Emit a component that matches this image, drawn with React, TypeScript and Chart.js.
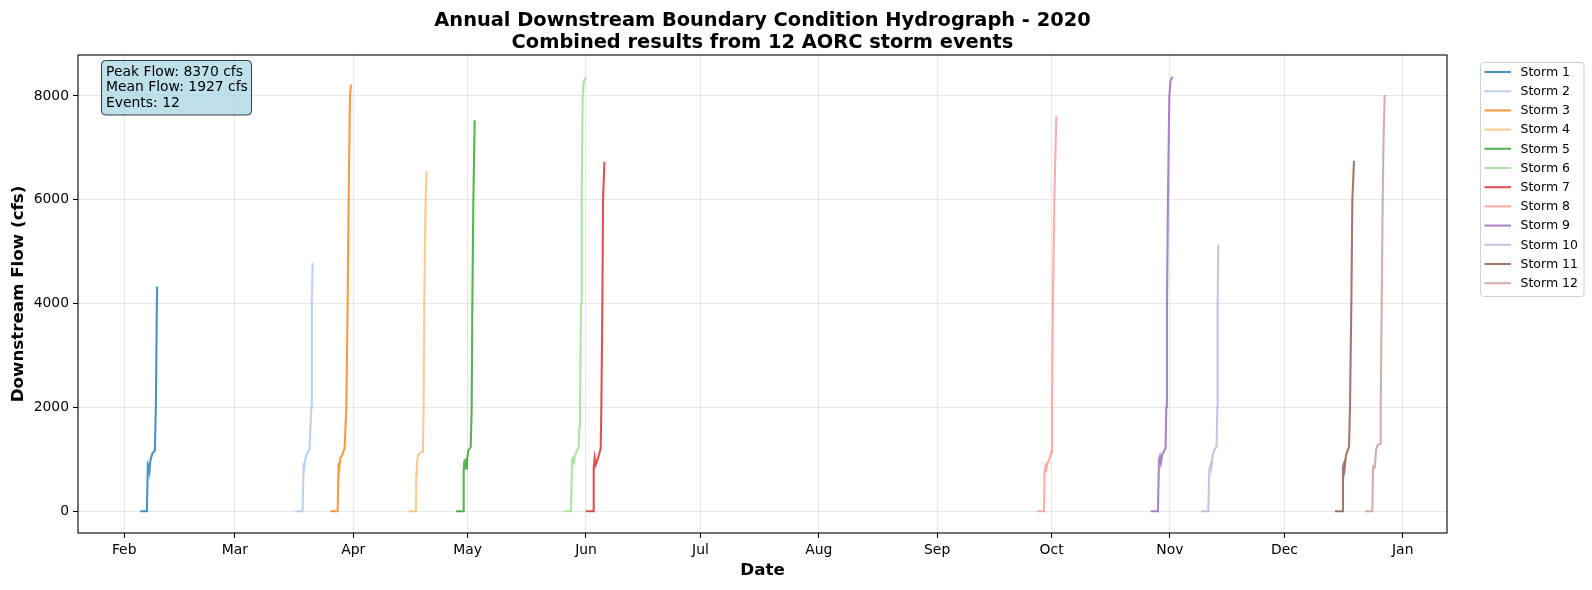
import React, { useEffect, useRef } from 'react';
import { Chart, registerables } from 'chart.js';

Chart.register(...registerables);

// ---- Data ----
const monthLabels = ['Feb', 'Mar', 'Apr', 'May', 'Jun', 'Jul', 'Aug', 'Sep', 'Oct', 'Nov', 'Dec', 'Jan'];
const monthStartDays = [31, 60, 91, 121, 152, 182, 213, 244, 274, 305, 335, 366];
const yTickValues = [0, 2000, 4000, 6000, 8000];

const stormNames = ['Storm 1', 'Storm 2', 'Storm 3', 'Storm 4', 'Storm 5', 'Storm 6', 'Storm 7', 'Storm 8', 'Storm 9', 'Storm 10', 'Storm 11', 'Storm 12'];
const stormColors = ['#1f77b4', '#aec7e8', '#ff7f0e', '#ffbb78', '#2ca02c', '#98df8a', '#d62728', '#ff9896', '#9467bd', '#c5b0d5', '#8c564b', '#c49c94'];
// start of each storm, as day of year 2020 (Jan 1 = 0)
const stormStartDays = [35.19, 75.82, 85.0, 105.52, 117.94, 146.15, 151.92, 270.24, 299.94, 313.22, 348.25, 356.12];

// days since storm start / flow (cfs)
const storm1Days = [0, 1.75, 2.01, 2.27, 2.45, 2.62, 2.88, 3.23, 3.85, 4.11, 4.37, 4.46];
const storm1Flow = [0, 0, 910, 870, 782, 950, 1038, 1115, 1167, 2000, 3990, 4330];
const storm2Days = [0, 1.92, 2.19, 2.36, 2.62, 3.06, 3.76, 4.2, 4.37, 4.55];
const storm2Flow = [0, 0, 930, 833, 994, 1120, 1200, 2000, 4000, 4780];
const storm3Days = [0, 1.92, 2.19, 2.36, 2.62, 3.15, 3.76, 4.2, 4.55, 4.81, 5.16, 5.42];
const storm3Flow = [0, 0, 930, 833, 1025, 1090, 1218, 2006, 3987, 5993, 8000, 8218];
const storm4Days = [0, 1.92, 2.01, 2.19, 2.53, 2.88, 3.58, 3.76, 3.93, 4.11, 4.46, 4.72];
const storm4Flow = [0, 0, 724, 949, 1077, 1122, 1141, 1173, 2000, 4000, 6000, 6557];
const storm5Days = [0, 1.84, 2.01, 2.19, 2.36, 2.53, 2.71, 2.88, 3.23, 3.85, 4.11, 4.28, 4.55, 4.9];
const storm5Flow = [0, 0, 756, 980, 820, 1013, 820, 980, 1173, 1237, 1987, 3981, 5980, 7532];
const storm6Days = [0, 1.92, 2.19, 2.45, 2.62, 2.88, 3.32, 3.93, 4.11, 4.28, 4.55, 4.72, 4.98, 5.24, 5.77];
const storm6Flow = [0, 0, 994, 1025, 897, 1025, 1154, 1218, 1635, 2006, 3987, 5993, 8000, 8269, 8365];
const storm7Days = [0, 1.92, 2.1, 2.36, 2.62, 2.97, 3.5, 3.93, 4.11, 4.37, 4.55, 4.9];
const storm7Flow = [0, 0, 833, 1025, 897, 962, 1090, 1218, 2006, 3987, 5993, 6730];
const storm8Days = [0, 1.75, 1.92, 2.1, 2.27, 2.62, 3.15, 3.67, 3.85, 4.11, 4.46, 4.98];
const storm8Flow = [0, 0, 782, 846, 750, 910, 1006, 1135, 1987, 3974, 5974, 7609];
const storm9Days = [0, 1.92, 2.19, 2.45, 2.71, 3.06, 3.5, 3.93, 4.11, 4.28, 4.55, 4.9, 5.24, 5.77];
const storm9Flow = [0, 0, 994, 1058, 930, 1090, 1154, 1218, 2006, 3987, 5993, 8000, 8301, 8370];
const storm10Days = [0, 1.84, 2.1, 2.45, 2.62, 2.97, 3.5, 4.02, 4.2, 4.28, 4.46];
const storm10Flow = [0, 0, 801, 897, 833, 1090, 1186, 1250, 2006, 3987, 5134];
const storm11Days = [0, 1.92, 2.1, 2.36, 2.53, 2.88, 3.32, 3.67, 3.93, 4.28, 4.55, 4.98];
const storm11Flow = [0, 0, 853, 917, 820, 1077, 1173, 1237, 1993, 3981, 5980, 6750];
const storm12Days = [0, 1.92, 2.1, 2.36, 2.53, 2.88, 3.23, 3.93, 4.11, 4.37, 4.63, 4.81, 5.16];
const storm12Flow = [0, 0, 853, 885, 820, 1173, 1269, 1301, 1993, 3981, 5980, 7006, 8019];

const stormDays = [storm1Days, storm2Days, storm3Days, storm4Days, storm5Days, storm6Days, storm7Days, storm8Days, storm9Days, storm10Days, storm11Days, storm12Days];
const stormFlows = [storm1Flow, storm2Flow, storm3Flow, storm4Flow, storm5Flow, storm6Flow, storm7Flow, storm8Flow, storm9Flow, storm10Flow, storm11Flow, storm12Flow];

const statsLines = ['Peak Flow: 8370 cfs', 'Mean Flow: 1927 cfs', 'Events: 12'];
const titleLines = ['Annual Downstream Boundary Condition Hydrograph - 2020', 'Combined results from 12 AORC storm events'];

const FONT = '"DejaVu Sans", sans-serif';

function hexToRgba(hex: string, a: number) {
  const r = parseInt(hex.slice(1, 3), 16);
  const g = parseInt(hex.slice(3, 5), 16);
  const b = parseInt(hex.slice(5, 7), 16);
  return `rgba(${r},${g},${b},${a})`;
}

function roundRect(ctx: CanvasRenderingContext2D, x: number, y: number, w: number, h: number, r: number) {
  ctx.beginPath();
  ctx.moveTo(x + r, y);
  ctx.lineTo(x + w - r, y);
  ctx.arcTo(x + w, y, x + w, y + r, r);
  ctx.lineTo(x + w, y + h - r);
  ctx.arcTo(x + w, y + h, x + w - r, y + h, r);
  ctx.lineTo(x + r, y + h);
  ctx.arcTo(x, y + h, x, y + h - r, r);
  ctx.lineTo(x, y + r);
  ctx.arcTo(x, y, x + r, y, r);
  ctx.closePath();
}

const decorPlugin = {
  id: 'decor',
  afterDraw(chart: any) {
    const ctx: CanvasRenderingContext2D = chart.ctx;
    const area = chart.chartArea;
    ctx.save();
    // spines
    ctx.strokeStyle = '#000';
    ctx.lineWidth = 1.1;
    ctx.strokeRect(area.left, area.top, area.right - area.left, area.bottom - area.top);

    const cx = (area.left + area.right) / 2;
    // title
    ctx.fillStyle = '#000';
    ctx.textAlign = 'center';
    ctx.textBaseline = 'middle';
    ctx.font = `bold 19.4px ${FONT}`;
    ctx.fillText(titleLines[0], cx, 20.5);
    ctx.fillText(titleLines[1], cx, 43);

    // axis titles
    ctx.font = `bold 16.7px ${FONT}`;
    ctx.fillText('Date', cx, 571);
    ctx.save();
    ctx.translate(18.5, (area.top + area.bottom) / 2);
    ctx.rotate(-Math.PI / 2);
    ctx.fillText('Downstream Flow (cfs)', 0, 0);
    ctx.restore();

    // stats box
    roundRect(ctx, 101.5, 60.5, 150, 54.5, 4);
    ctx.fillStyle = 'rgba(173,216,230,0.8)';
    ctx.fill();
    ctx.strokeStyle = 'rgba(0,0,0,0.75)';
    ctx.lineWidth = 1;
    ctx.stroke();
    ctx.fillStyle = '#000';
    ctx.textAlign = 'left';
    ctx.font = `13.9px ${FONT}`;
    statsLines.forEach((t, i) => ctx.fillText(t, 106, 72 + i * 15.5));

    // legend
    roundRect(ctx, 1480.5, 62.5, 103.5, 234, 3);
    ctx.fillStyle = 'rgba(255,255,255,0.8)';
    ctx.fill();
    ctx.strokeStyle = '#d0d0d0';
    ctx.lineWidth = 1;
    ctx.stroke();
    ctx.font = `12.5px ${FONT}`;
    stormNames.forEach((name, i) => {
      const y = 72 + i * 19.2;
      ctx.strokeStyle = hexToRgba(stormColors[i], 0.8);
      ctx.lineWidth = 2.1;
      ctx.beginPath();
      ctx.moveTo(1484.5, y);
      ctx.lineTo(1511, y);
      ctx.stroke();
      ctx.fillStyle = '#000';
      ctx.fillText(name, 1520.5, y + 0.5);
    });
    ctx.restore();
  },
};

export default function App() {
  const canvasRef = useRef<HTMLCanvasElement | null>(null);

  useEffect(() => {
    const canvas = canvasRef.current;
    if (!canvas) return;
    const datasets = stormNames.map((name, i) => ({
      label: name,
      data: stormDays[i].map((d, j) => ({ x: stormStartDays[i] + d, y: stormFlows[i][j] })),
      borderColor: hexToRgba(stormColors[i], 0.8),
      backgroundColor: hexToRgba(stormColors[i], 0.8),
      borderWidth: 2.1,
      pointRadius: 0,
      fill: false,
      tension: 0,
    }));
    const tickFont = { family: FONT, size: 13.9 };
    const chart = new Chart(canvas, {
      type: 'line',
      data: { datasets },
      options: {
        animation: false,
        responsive: false,
        maintainAspectRatio: false,
        layout: { padding: { left: 0, top: 55, right: 145, bottom: 0 } },
        plugins: {
          legend: { display: false },
          title: { display: false },
          tooltip: { enabled: false },
        },
        scales: {
          x: {
            type: 'linear',
            min: 18.9,
            max: 377.6,
            afterBuildTicks: (s: any) => {
              s.ticks = monthStartDays.map((v) => ({ value: v }));
            },
            afterFit: (s: any) => {
              s.height = 57;
            },
            ticks: {
              callback: (v: any) => {
                const i = monthStartDays.indexOf(Number(v));
                return i >= 0 ? monthLabels[i] : '';
              },
              font: tickFont,
              color: '#000',
              padding: 4,
              maxRotation: 0,
              autoSkip: false,
            },
            grid: { color: '#e6e6e6', lineWidth: 1, tickColor: '#000', tickLength: 5, tickWidth: 1.1 },
            border: { display: false },
          },
          y: {
            type: 'linear',
            min: -418.5,
            max: 8788.5,
            afterBuildTicks: (s: any) => {
              s.ticks = yTickValues.map((v) => ({ value: v }));
            },
            afterFit: (s: any) => {
              s.width = 78;
            },
            ticks: {
              callback: (v: any) => String(v),
              font: tickFont,
              color: '#000',
              padding: 4,
              autoSkip: false,
            },
            grid: { color: '#e6e6e6', lineWidth: 1, tickColor: '#000', tickLength: 5, tickWidth: 1.1 },
            border: { display: false },
          },
        },
      } as any,
      plugins: [decorPlugin],
    });
    return () => chart.destroy();
  }, []);

  return (
    <div style={{ position: 'absolute', left: 0, top: 0, width: 1592, height: 590, background: '#fff' }}>
      <canvas ref={canvasRef} width={1592} height={590} style={{ width: 1592, height: 590 }} />
    </div>
  );
}
